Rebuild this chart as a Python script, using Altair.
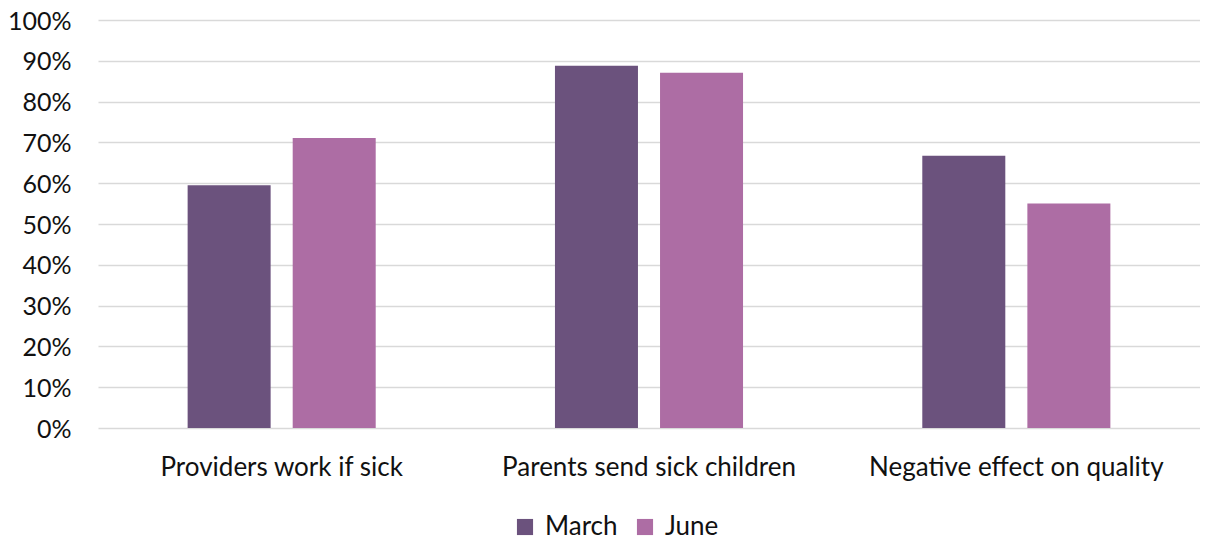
import altair as alt
import pandas as pd

categories = ["Providers work if sick", "Parents send sick children", "Negative effect on quality"]
series = ["March", "June"]
march = [0.595, 0.888, 0.667]
june = [0.711, 0.871, 0.550]
colors = ["#6B527D", "#AD6DA4"]
y_ticks = [i / 10 for i in range(11)]

rows = []
for c, m, j in zip(categories, march, june):
    rows.append({"category": c, "series": "March", "value": m})
    rows.append({"category": c, "series": "June", "value": j})
df = pd.DataFrame(rows)

FONT = "Lato"
TXT = "#111111"

chart = alt.Chart(df).mark_bar().encode(
    x=alt.X("category:N", sort=categories, title=None,
            scale=alt.Scale(paddingInner=0.488, paddingOuter=0.244),
            axis=alt.Axis(labelAngle=0, labelFontSize=26, labelFont=FONT, labelColor=TXT,
                          labelLimit=1000, ticks=False, domain=False, labelPadding=26)),
    xOffset=alt.XOffset("series:N", sort=series, scale=alt.Scale(paddingInner=0.21, paddingOuter=0)),
    y=alt.Y("value:Q", title=None,
            scale=alt.Scale(domain=[0, 1], nice=False),
            axis=alt.Axis(values=y_ticks, format=".0%", labelFontSize=25, labelFont=FONT,
                          labelColor=TXT, ticks=False, domain=False, labelPadding=27,
                          labelOffset=1, gridColor="#d9d9d9", gridWidth=1.5)),
    color=alt.Color("series:N", sort=series, title=None,
                    scale=alt.Scale(domain=series, range=colors),
                    legend=alt.Legend(orient="none", legendX=414, legendY=494, direction="horizontal",
                                      symbolType="square", symbolSize=260, symbolStrokeWidth=0,
                                      labelFontSize=26, labelFont=FONT, labelColor=TXT,
                                      labelLimit=1000, columnPadding=14, labelOffset=7)),
).properties(
    width=1102, height=408,
    autosize=alt.AutoSizeParams(type="none"),
    padding={"left": 90, "top": 12, "right": 0, "bottom": 112},
).configure_view(stroke=None)

chart.save("out.html", embed_options={"renderer": "svg", "actions": False})
